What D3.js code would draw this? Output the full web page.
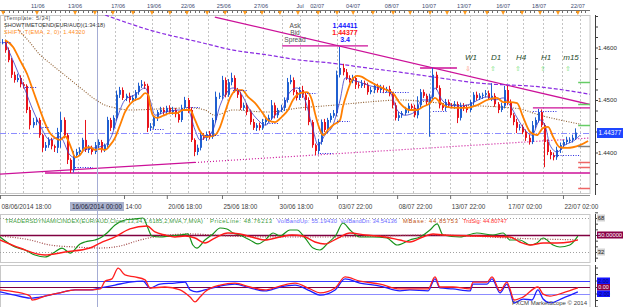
<!DOCTYPE html>
<html>
<head>
<meta charset="utf-8">
<script src="https://cdn.jsdelivr.net/npm/d3@7/dist/d3.min.js"></script>
<style>
  body { margin: 0; background: #ffffff; }
  svg { display: block; font-family: "Liberation Sans", Arial, sans-serif; }
</style>
</head>
<body>
<div id="chart"></div>
<script>
//////////////////////////////////////////////////
//   DATA  (prices in pips above 1.4300, H4)     //
//////////////////////////////////////////////////
var BASE = 1.43;
var firstOpen = 305;
var closes = [309,310,295,276,248,238,242,230,227,181,
  152,158,162,133,109,114,124,112,109,139,
  162,133,86,67,95,101,105,124,105,109,
  101,114,120,105,114,162,147,166,210,219,
  204,208,200,204,215,227,230,227,147,150,
  166,177,181,177,185,177,181,173,162,185,
  200,181,124,101,109,133,128,135,130,162,
  206,208,238,210,234,242,219,210,185,190,
  177,158,147,152,147,158,162,166,190,171,
  181,185,200,234,238,215,204,219,210,200,
  158,114,103,120,158,143,162,170,175,248,
  261,253,242,238,242,229,227,232,229,215,
  219,227,219,223,219,221,211,190,166,171,
  175,181,189,185,171,190,215,208,196,206,
  248,223,190,185,196,190,189,192,166,189,
  185,181,196,210,204,208,210,213,204,208,
  192,181,189,219,196,171,158,147,149,139,
  128,120,152,162,177,152,120,101,95,91,
  105,114,120,124,124,128,138];
var upWick = [4,6,3,5,4,6,8,5,4,3, 6,8,5,4,3,6,5,4,3,8, 15,5,4,3,8,6,5,4,38,5,
  4,6,5,4,3,6,4,5,8,6, 5,4,6,5,4,6,8,5,4,6, 5,4,6,5,4,5,6,4,5,6,
  6,4,5,3,6,8,4,5,6,4, 10,6,8,5,6,10,5,4,6,5, 4,5,6,4,5,6,4,6,10,5,
  4,6,5,8,10,5,4,6,8,4, 5,4,3,6,5,6,4,5,6,8, 40,8,6,5,6,4,5,6,5,4,
  6,5,4,6,5,4,6,4,5,6, 4,6,5,4,6,17,6,5,4,6, 13,6,5,4,6,5,4,6,5,6,
  5,6,4,5,6,5,4,6,5,24, 5,4,6,8,8,5,4,6,5,4, 5,6,8,5,6,5,4,5,4,5,
  6,5,4,6,5,6,8];
var lowWick = [4,3,5,4,6,5,4,6,5,6, 8,5,6,5,8,6,5,6,8,10, 30,6,8,6,5,4,6,5,4,6,
  5,4,6,5,4,5,6,4,5,6, 4,6,5,4,6,5,4,6,8,6, 5,6,4,5,6,4,5,6,5,4,
  5,6,4,8,6,5,4,6,5,4, 5,4,6,5,4,6,5,6,4,5, 6,5,4,6,5,4,6,5,4,6,
  5,4,6,5,4,6,5,4,6,20, 6,5,8,6,5,4,6,5,4,6, 5,6,4,5,6,8,5,4,6,5,
  4,6,5,4,6,5,4,6,5,6, 5,4,6,5,4,6,5,4,6,66, 5,4,6,5,6,4,5,6,10,5,
  6,5,4,6,5,4,6,5,4,6, 5,6,4,5,6,5,6,10,5,4, 6,5,4,6,5,4,48,6,8,6,
  5,6,4,5,6,5,4];

// moving averages as [bar index, pips]
var orangeMA = [[1.8,314],[4.4,301],[6.6,276],[8.9,250],[10.8,219],[13.1,181],[14.7,156],[16.3,137],
  [17.9,128],[19.5,124],[21.2,131],[22.1,124],[23.4,105],[24.4,91],[26,95],[27.6,109],[29.2,110],
  [30.8,105],[32.5,107],[34.1,105],[35.7,114],[37.3,128],[38.9,152],[40.5,177],[42.1,192],[43.7,200],
  [45.4,204],[47,213],[48,210],[48.6,190],[49.5,171],[50.8,166],[52.8,170],[55,175],[57.3,175],
  [59.2,181],[61.5,181],[63.1,162],[64.7,141],[67,130],[69.5,133],[71.2,149],[72.8,177],[74.4,204],
  [76.6,219],[78.3,219],[80.2,206],[82.5,194],[84.7,177],[86.6,162],[88.9,158],[91.1,168],[93.1,181],
  [94.7,200],[97,213],[99.2,215],[100.8,200],[101.8,175],[103.4,143],[104.4,133],[106,143],[107.6,152],
  [109.9,162],[110.8,187],[112.1,213],[113.7,238],[115.4,246],[117,244],[118.6,238],[120.5,232],
  [122.8,225],[125,219],[127,213],[129.2,194],[132.4,181],[134.7,181],[136.6,187],[138.9,194],
  [140.5,204],[142.1,196],[144.4,187],[147.6,185],[150.8,185],[154,190],[157.3,200],[160.5,204],
  [162.5,196],[164.7,196],[167,194],[168.9,168],[171.2,139],[173.4,133],[175.4,147],[177,149],
  [178.6,130],[180.8,110],[183.1,109],[185,110],[187.3,114],[189.9,122]];
var fastMA = [[1.8,310],[5,267],[8.3,219],[10.8,181],[13.1,152],[16.3,124],[19.5,130],[22.8,95],
  [24.4,90],[27.6,105],[30.8,109],[34.1,114],[36.3,133],[38.3,171],[40.5,200],[43.7,210],[47,223],
  [48.6,200],[50.2,171],[53.4,177],[58.3,181],[60.8,181],[63.1,143],[64.7,124],[66.3,128],[68.9,143],
  [71.2,190],[73.4,215],[75.4,223],[77.6,215],[80.8,181],[83.4,162],[85.7,152],[88.9,171],[91.5,185],
  [93.7,215],[96,223],[98.6,200],[101.2,143],[102.8,114],[105,133],[107.6,152],[109.9,200],[111.5,242],
  [113.7,238],[116.3,234],[119.5,227],[122.8,223],[126,215],[128.3,181],[130.8,171],[134,177],
  [136.3,200],[138.9,200],[140.5,223],[142.8,200],[145.4,190],[148.6,189],[151.8,192],[154.4,200],
  [157.3,206],[159.9,200],[162.5,204],[164.7,190],[167,166],[169.5,143],[171.8,133],[174.4,162],
  [176,152],[177.6,114],[179.9,101],[182.4,114],[185.7,124],[187.3,133]];
var slowMA = [[6,334],[9.2,314],[13.1,286],[16.3,270],[21.8,244],[27,219],[30.2,204],[33.4,192],
  [37.3,185],[42.1,181],[51.8,183],[61.5,185],[66.3,181],[69.5,171],[75.4,181],[86.3,177],[97,185],
  [107.6,190],[118.6,196],[129.2,200],[138.9,196],[149.6,190],[160.5,187],[167.9,183],[174.4,171],
  [180.8,162],[187.3,154]];
var longMA = [[34.1,362],[48.6,333],[64.7,310],[75.4,295],[86.3,286],[97,276],[107.6,270],
  [118.6,261],[129.2,253],[142.1,242],[155,232],[174.4,225],[190.5,211]];

// trend lines and levels
var trendDown = [[69.5,358],[191.2,190.5]];
var trendUpSolid = [[0.2,59],[63.1,81]];
var trendUpDotted = [[63.1,81],[190.5,127.6]];
var flatLines = [[14.7,190.5,61],[91.2,118.9,303],[135.7,147.6,261],[172.1,191.2,185]];
var fractalSegs = [[0,4,310],[8.3,12.1,225],[13.1,16.3,149],[24.4,30.2,72],[48.6,53.4,145],
  [60.5,64.7,187],[64.7,71.2,133],[75.4,79.9,219],[86.3,89.9,156],[99.2,102.5,213],[103.4,107.6,99],
  [108.9,113.1,160],[122.8,132.4,215],[139.9,144.4,179],[172.1,179.9,179],[178.6,187.3,95]];
var resistLevels = [234, 192, 152];
var pivotLevels = [112];
var supportLevels = [82, 72, 32];
var bidPips = 137.7;
var quote = {ask: "1.44411", bid: "1.44377", spread: "3.4"};

// time axes
var topDates = ["11/06","13/06","17/06","19/06","22/06","25/06","27/06","Jul","02/07","04/07","08/07","10/07","13/07","16/07","18/07","22/07"];
var topDateIdx = [12.4,24.4,38.3,49.9,60.8,72.4,84.4,97,102.5,114.1,126.6,138.6,149.9,162.5,174.1,186.6];
var dayMarkIdx = [1.2,12.1,24.4,30.8,36.6,43.1,49.2,55,60.5,67,72.8,79.2,84.7,90.5,96.3,102.8,108.9,
  114.1,120.5,127,132.5,138.9,144.4,150.2,157.3,162.5,168.6,174.4,180.2,186.6];
var gridIdx = [1.8,7.6,13.7,19.5,25.4,37.3,43.1,49.2,55,60.8,67.3,73.4,79.2,85,91.2,97,102.8,108.9,
  114.7,120.5,127,133.4,138.9,145.4,151.8,157.3,163.7,168.9,175.4,181.5,187.3];
var bottomLabels = ["08/06/2014 18:00","14:00","20/06 18:00","25/06 18:00","30/06 18:00",
  "03/07 22:00","08/07 22:00","13/07 22:00","17/07 02:00","22/07 02:00"];
var bottomIdx = [0.2,40.2,54,71.8,89.9,108.9,128.3,145.4,163.7,181.8];
var cursorIdx = 31.5;
var cursorLabel = "16/06/2014 00:00";

// timeframe trend panel
var frames = ["W1","D1","H4","H1","m15"];
var frameUp = [false,true,true,true,true];

// Traders Dynamic Index pane, [bar index, value]
var tdiPrice = [[0.2,47.9],[5,37.3],[8.3,34.1],[11.5,28.8],[14.7,26.7],[17.9,32],[20.2,36.2],[22.8,30.9],
  [26,40.5],[27.6,42.6],[30.8,44.7],[32.5,46.8],[34.7,52.1],[37.3,60.6],[40.5,65.9],[43.7,67],[46.3,68],
  [47.9,57.4],[49.2,48.9],[51.8,47.9],[55,48.9],[58.3,50],[60.8,51.1],[62.4,39.4],[63.7,36.2],[66.3,44.7],
  [68.9,51.1],[71.2,57.4],[73.4,56.4],[75.4,52.1],[77.6,50],[80.8,44.7],[83.4,40.5],[85.7,44.7],[88.3,52.1],
  [90.5,48.9],[93.7,55.3],[96,55.3],[98.6,46.8],[101.2,36.2],[103.4,34.1],[106,41.5],[108.6,50],[110.8,62.7],
  [113.1,55.3],[116.3,47.9],[120.5,47.9],[125,46.8],[128.3,39.4],[132.4,44.7],[135.7,47.9],[138.9,55.3],
  [141.2,61.7],[143.1,50],[148.6,47.9],[154,52.1],[159.2,50],[162.5,52.1],[164.7,44.7],[167.9,44.7],
  [171.2,39.4],[173.4,41.5],[175.4,46.8],[178.6,39.4],[180.8,37.3],[184,39.4],[186.6,48.8]];
var tdiSignal = [[0.2,44.7],[6.6,36.2],[14.7,28.8],[21.2,32],[29.2,36.2],[32.5,41.5],[37.3,47.9],[42.1,56.4],
  [47.6,59.5],[50.2,53.2],[53.4,50],[56.6,47.9],[59.9,48.9],[63.1,46.8],[66.3,41.5],[69.5,46.8],[73.7,52.1],
  [77.6,51.1],[82.5,46.8],[85.7,44.7],[90.5,47.9],[94.4,50],[97.9,48.9],[101.8,42.6],[105,40.5],[109.2,46.8],
  [113.1,52.1],[118,50],[124.4,47.9],[129.2,44.7],[132.4,42.6],[136.6,47.9],[139.9,51.1],[143.1,50],
  [154,48.9],[164.7,47.9],[167.9,42.6],[171.2,39.4],[175.4,41.5],[179.9,41.5],[184,42.6],[186.6,44.8]];
var tdiBase = [[0.2,48.9],[9.9,44.7],[16.3,39.4],[24.4,37.3],[32.5,36.2],[38.9,38.3],[45.4,44.7],
  [51.8,48.9],[61.5,51.1],[74.4,48.9],[90.5,47.9],[106.6,47.9],[122.8,48.9],[138.9,50],[151.8,48.9],
  [164.7,46.8],[186.6,44.9]];
var tdiLevels = [68, 50, 32];
var tdiTitle = "TRADERSDYNAMICINDEX(EUR/AUD,Close,13,34,1.6185,2,MVA,7,MVA)";
var tdiValues = ["PriceLine: 48.76213","VolBandUp: 55.19430","VolBandDn: 34.54136","MBase: 44.85753","TrdSig: 44.80747"];

// lower oscillator pane, [bar index, value]
var oscBlue = [[0.2,-1.5],[5,-2.5],[9.9,-3.4],[14.7,-2.8],[19.5,-1.8],[24.4,-0.9],[29.2,-0.9],[32.5,-0.3],
  [37.3,0.6],[42.1,1.5],[46.3,1.8],[48.6,-0.3],[51.8,0.9],[56.6,1.2],[59.9,1.5],[61.5,-0.9],[63.7,-1.5],
  [66.3,-0.9],[71.2,0.3],[76,0.9],[80.8,-0.3],[85.7,-1.2],[90.5,0],[95.4,0.6],[100.2,-1.2],[103.4,-2.5],
  [108.3,-0.9],[111.5,2.5],[116.3,1.2],[122.8,0.3],[129.2,-1.2],[132.4,-0.9],[138.3,-1.2],[140.5,2.5],
  [142.1,-0.3],[146.3,-0.6],[151.8,-1.2],[152.8,0.9],[157.3,0.9],[158.9,2.5],[161.5,-1.8],[163.7,0.9],
  [164.7,-1.2],[166,-4.9],[168.9,-3.7],[171.8,-4],[173.7,-0.9],[175.4,-3.7],[177.6,-4.9],[181.8,-3.4],
  [186.6,-1.5]];
var oscRed = [[0.2,-0.9],[5,-1.5],[9.9,-2.8],[10.5,-4],[14.7,-2.8],[19.5,-1.8],[24.4,-0.9],[29.2,-0.9],
  [32.5,-0.6],[34.1,1.8],[36.3,2.5],[38.3,5.8],[40.5,3.7],[43.7,3.1],[47,2.2],[48.6,-0.3],[53.4,0],
  [58.3,-0.9],[61.5,-3.1],[63.1,-4.6],[64.7,-3.1],[66.3,-1.5],[71.2,0.6],[76,1.2],[80.8,0],[85.7,-0.9],
  [90.5,0.3],[95.4,1.2],[100.2,-0.6],[103.4,-1.8],[108.3,-0.3],[111.5,3.1],[116.3,1.8],[122.8,0.9],
  [129.2,-0.6],[132.4,-0.6],[138.3,-0.6],[140.5,3.1],[142.1,0],[146.3,0],[151.8,-0.6],[152.8,1.5],
  [157.3,1.5],[158.9,3.1],[161.5,-1.2],[163.7,1.5],[164.7,-0.6],[166,-4],[168.9,-3.1],[173.7,0],
  [175.4,-2.2],[177.6,-2.8],[181.8,-1.8],[186.6,-0.3]];
var oscLevels = [2, 0, -2];

//////////////////////////////////////////////////
//                LAYOUT                        //
//////////////////////////////////////////////////
var width = 625, height = 307;
var main = {left: 0, right: 590, top: 15, bottom: 193};
var pane1 = {top: 214, bottom: 262};
var pane2 = {top: 265, bottom: 307};
var axisX = 595;

var x = d3.scaleLinear().domain([0, 186]).range([-0.6, 576]);
var y = d3.scaleLinear().domain([0, 400]).range([205, -5]);
var y1 = d3.scaleLinear().domain([50, 68]).range([235, 218]);
var y2 = d3.scaleLinear().domain([0, 2]).range([287, 280.5]);

function fmtPrice(v) { return (BASE + v / 10000).toFixed(4); }

var svg = d3.select("#chart").append("svg")
  .attr("width", width)
  .attr("height", height);

svg.append("rect").attr("width", width).attr("height", height).attr("fill", "#ffffff");

var defs = svg.append("defs");
defs.append("clipPath").attr("id", "clipMain").append("rect")
  .attr("x", main.left).attr("y", main.top)
  .attr("width", main.right - main.left).attr("height", main.bottom - main.top);
defs.append("clipPath").attr("id", "clipP1").append("rect")
  .attr("x", 0).attr("y", pane1.top).attr("width", main.right).attr("height", pane1.bottom - pane1.top);
defs.append("clipPath").attr("id", "clipP2").append("rect")
  .attr("x", 0).attr("y", pane2.top).attr("width", main.right).attr("height", pane2.bottom - pane2.top);

// frames
[[main.top, main.bottom], [pane1.top, pane1.bottom], [pane2.top, pane2.bottom]].forEach(function (p) {
  svg.append("rect")
    .attr("x", 0.5).attr("y", p[0] + 0.5)
    .attr("width", main.right - 0.5).attr("height", p[1] - p[0])
    .attr("fill", "none").attr("stroke", "#c8c8c8");
});

var gMain = svg.append("g").attr("clip-path", "url(#clipMain)");

// day gridlines
gMain.selectAll(".grid").data(gridIdx).enter().append("line")
  .attr("x1", d => Math.round(x(d)) + 0.5).attr("x2", d => Math.round(x(d)) + 0.5)
  .attr("y1", main.top).attr("y2", main.bottom)
  .attr("stroke", "#c4c4c4").attr("stroke-dasharray", "2,2");

// trend lines
var lineP = d3.line().x(d => x(d[0])).y(d => y(d[1]));
gMain.append("path").datum(trendDown).attr("d", lineP)
  .attr("fill", "none").attr("stroke", "#cc1199").attr("stroke-width", 1.3);
gMain.append("path").datum(trendUpSolid).attr("d", lineP)
  .attr("fill", "none").attr("stroke", "#cc1199").attr("stroke-width", 1.3);
gMain.append("path").datum(trendUpDotted).attr("d", lineP)
  .attr("fill", "none").attr("stroke", "#cc1199").attr("stroke-width", 1.2).attr("stroke-dasharray", "1,2");
gMain.selectAll(".flat").data(flatLines).enter().append("line")
  .attr("x1", d => x(d[0])).attr("x2", d => x(d[1]))
  .attr("y1", d => y(d[2])).attr("y2", d => y(d[2]))
  .attr("stroke", "#cc1199").attr("stroke-width", 1.3);

// bid line
gMain.append("line")
  .attr("x1", main.left).attr("x2", main.right)
  .attr("y1", Math.round(y(bidPips)) + 0.5).attr("y2", Math.round(y(bidPips)) + 0.5)
  .attr("stroke", "#8c8cff").attr("stroke-dasharray", "6,2,1,2");

// slow averages
var curve = d3.line().curve(d3.curveMonotoneX).x(d => x(d[0])).y(d => y(d[1]));
gMain.append("path").datum(longMA).attr("d", curve)
  .attr("fill", "none").attr("stroke", "#8a2be2").attr("stroke-width", 1.2).attr("stroke-dasharray", "4,2");
gMain.append("path").datum(slowMA).attr("d", curve)
  .attr("fill", "none").attr("stroke", "#8b5a2b").attr("stroke-width", 1.1).attr("stroke-dasharray", "1,1.5");

// candles
var bars = closes.map(function (c, i) {
  var o = i ? closes[i - 1] : firstOpen;
  return {i: i, o: o, c: c, h: Math.max(o, c) + upWick[i], l: Math.min(o, c) - lowWick[i]};
});
var candle = gMain.selectAll(".bar").data(bars).enter().append("g");
candle.append("rect")
  .attr("x", d => Math.round(x(d.i)) - 1)
  .attr("y", d => y(d.h))
  .attr("width", 1)
  .attr("height", d => y(d.l) - y(d.h))
  .attr("fill", d => d.c >= d.o ? "#1f5fd0" : "#e8141c");
candle.append("rect")
  .attr("x", d => Math.round(x(d.i)) - 1)
  .attr("y", d => y(Math.max(d.o, d.c)))
  .attr("width", 2)
  .attr("height", d => Math.max(1, Math.abs(y(d.o) - y(d.c))))
  .attr("fill", d => d.c >= d.o ? "#1f5fd0" : "#e8141c");

// fast averages
gMain.append("path").datum(fastMA).attr("d", curve)
  .attr("fill", "none").attr("stroke", "#3a3ac8").attr("stroke-width", 0.8);
gMain.append("path").datum(orangeMA).attr("d", curve)
  .attr("fill", "none").attr("stroke", "#ff7f00").attr("stroke-width", 1.8);

// fractal levels
gMain.selectAll(".frac").data(fractalSegs).enter().append("line")
  .attr("x1", d => x(d[0])).attr("x2", d => x(d[1]))
  .attr("y1", d => Math.round(y(d[2])) + 0.5).attr("y2", d => Math.round(y(d[2])) + 0.5)
  .attr("stroke", "#2a2ae0").attr("stroke-width", 1).attr("stroke-dasharray", "1,1.5");

// pivot marks at the right edge
function levelMarks(levels, color) {
  gMain.selectAll(null).data(levels).enter().append("line")
    .attr("x1", x(186.7)).attr("x2", main.right)
    .attr("y1", d => Math.round(y(d)) + 0.5).attr("y2", d => Math.round(y(d)) + 0.5)
    .attr("stroke", color).attr("stroke-width", 1.5);
}
levelMarks(resistLevels, "#66cc66");
levelMarks(pivotLevels, "#808080");
levelMarks(supportLevels, "#ee6666");

// cursor line through all panes
svg.append("line")
  .attr("x1", Math.round(x(cursorIdx)) + 0.5).attr("x2", Math.round(x(cursorIdx)) + 0.5)
  .attr("y1", 10).attr("y2", height)
  .attr("stroke", "#a4acd4");

//////////////////////////////////////////////////
//             TOP DATE STRIP                   //
//////////////////////////////////////////////////
svg.append("line").attr("x1", 0).attr("x2", main.right)
  .attr("y1", 10.5).attr("y2", 10.5).attr("stroke", "#707070");
svg.selectAll(".ttick").data(d3.range(0, 190, 1.5)).enter().append("line")
  .attr("x1", d => Math.round(x(d)) + 0.5).attr("x2", d => Math.round(x(d)) + 0.5)
  .attr("y1", 10.5).attr("y2", 13).attr("stroke", "#707070");
svg.selectAll(".tri").data(dayMarkIdx).enter().append("path")
  .attr("d", d => { var cx = x(d); return "M" + (cx - 2) + ",11L" + (cx + 2) + ",11L" + cx + ",15Z"; })
  .attr("fill", "#ff9a1a");
svg.selectAll(".tdate").data(topDates).enter().append("text")
  .attr("x", (d, i) => x(topDateIdx[i])).attr("y", 8)
  .attr("text-anchor", "middle").attr("font-size", "5.6px").attr("fill", "#3c4a70")
  .text(d => d);

//////////////////////////////////////////////////
//             PRICE AXIS                       //
//////////////////////////////////////////////////
var priceAxis = svg.append("g")
  .attr("transform", "translate(" + axisX + ",0)")
  .call(d3.axisRight(y).tickValues(d3.range(40, 361, 20)).tickSize(3).tickPadding(0)
    .tickFormat(d => d % 100 === 0 ? fmtPrice(d) : ""));
priceAxis.select(".domain").remove();
priceAxis.selectAll("line").attr("stroke", "#404040");
priceAxis.selectAll("text").attr("font-size", "6.2px").attr("fill", "#303030")
  .attr("font-family", "Liberation Sans, Arial, sans-serif");
svg.append("line").attr("x1", axisX + 0.5).attr("x2", axisX + 0.5)
  .attr("y1", main.top).attr("y2", main.bottom + 2).attr("stroke", "#404040");

// bid tag
svg.append("rect").attr("x", 597).attr("y", Math.round(y(bidPips)) - 5)
  .attr("width", 26).attr("height", 10).attr("fill", "#1e46ff");
svg.append("text").attr("x", 610).attr("y", Math.round(y(bidPips)) + 2.3)
  .attr("text-anchor", "middle").attr("font-size", "6.3px").attr("fill", "#ffffff")
  .text(quote.bid);

//////////////////////////////////////////////////
//             BOTTOM TIME AXIS                 //
//////////////////////////////////////////////////
var timeAxis = svg.append("g")
  .attr("transform", "translate(0," + (main.bottom + 2) + ")")
  .call(d3.axisBottom(x).tickValues(bottomIdx).tickSize(4).tickPadding(5)
    .tickFormat((d, i) => bottomLabels[i]));
timeAxis.select(".domain").attr("stroke", "#909090").attr("d", "M0,0.5H" + main.right);
timeAxis.selectAll("line").attr("stroke", "#707070");
timeAxis.selectAll("text").attr("text-anchor", "start").attr("dx", "1px")
  .attr("font-size", "6.4px").attr("fill", "#404040")
  .attr("font-family", "Liberation Sans, Arial, sans-serif");
svg.append("rect").attr("x", 70).attr("y", 202).attr("width", 54).attr("height", 9).attr("fill", "#a9b1cc");
svg.append("text").attr("x", 72).attr("y", 209).attr("font-size", "6.4px").attr("fill", "#1c2038")
  .attr("textLength", 50).text(cursorLabel);

//////////////////////////////////////////////////
//             CHART TEXTS                      //
//////////////////////////////////////////////////
svg.append("text").attr("x", 4).attr("y", 20).attr("font-size", "5.6px").attr("fill", "#555555")
  .attr("textLength", 46).text("[Template: 5/34]");
svg.append("text").attr("x", 4).attr("y", 27).attr("font-size", "5.6px").attr("fill", "#303030")
  .attr("textLength", 101).text("SHOWTIMETOEND(EUR/AUD)(1:34:18)");
svg.append("text").attr("x", 4).attr("y", 34).attr("font-size", "5.6px").attr("fill", "#ff8c1a")
  .attr("textLength", 81).text("SHIFT_T(EMA, 2, 0): 1.44320");

var quoteRows = [["Ask", quote.ask, "#1414ff"], ["Bid", quote.bid, "#ff1414"], ["Spread", quote.spread, "#1414ff"]];
quoteRows.forEach(function (r, i) {
  svg.append("text").attr("x", 295).attr("y", 28 + i * 7).attr("text-anchor", "middle")
    .attr("font-size", "6.6px").attr("fill", "#505050").text(r[0]);
  svg.append("text").attr("x", 345).attr("y", 28 + i * 7).attr("text-anchor", "middle")
    .attr("font-size", "7px").attr("font-weight", "bold").attr("fill", r[2]).text(r[1]);
});

frames.forEach(function (f, i) {
  svg.append("text").attr("x", 471 + i * 25).attr("y", 60).attr("text-anchor", "middle")
    .attr("font-size", "8px").attr("font-style", "italic").attr("fill", "#1e4a2a").text(f);
  svg.append("text").attr("x", 468 + i * 25).attr("y", 71).attr("text-anchor", "middle")
    .attr("font-size", "6.5px").attr("font-family", "DejaVu Sans")
    .attr("fill", frameUp[i] ? "#66dd66" : "#ff8866").text(frameUp[i] ? "\u21e7" : "\u21e9");
});

//////////////////////////////////////////////////
//             TDI PANE                         //
//////////////////////////////////////////////////
var gP1 = svg.append("g").attr("clip-path", "url(#clipP1)");
gP1.selectAll(".lvl").data(tdiLevels).enter().append("line")
  .attr("x1", 0).attr("x2", main.right)
  .attr("y1", d => Math.round(y1(d)) + 0.5).attr("y2", d => Math.round(y1(d)) + 0.5)
  .attr("stroke", d => d === 50 ? "#800040" : "#a0a0a0")
  .attr("stroke-width", d => d === 50 ? 1.3 : 1)
  .attr("stroke-dasharray", d => d === 50 ? null : "1,2");
var line1 = d3.line().curve(d3.curveMonotoneX).x(d => x(d[0])).y(d => y1(d[1]));
gP1.append("path").datum(tdiBase).attr("d", line1)
  .attr("fill", "none").attr("stroke", "#a04848").attr("stroke-width", 1.2).attr("stroke-dasharray", "1,1.5");
gP1.append("path").datum(tdiPrice).attr("d", line1)
  .attr("fill", "none").attr("stroke", "#18921a").attr("stroke-width", 1.2);
gP1.append("path").datum(tdiSignal).attr("d", line1)
  .attr("fill", "none").attr("stroke", "#ff1a1a").attr("stroke-width", 1.4);

svg.append("text").attr("x", 5).attr("y", 223).attr("font-size", "5.8px").attr("fill", "#3c9a3c")
  .attr("textLength", 198).text(tdiTitle);
var valX = [210, 277, 340, 403, 463], valLen = [62, 60, 57, 55, 44];
var valColors = ["#3c9a3c", "#6a6aff", "#6a6aff", "#c05010", "#ff3030"];
tdiValues.forEach(function (t, i) {
  svg.append("text").attr("x", valX[i]).attr("y", 223).attr("font-size", "5.8px")
    .attr("fill", valColors[i]).attr("textLength", valLen[i]).text(t);
});

var p1Axis = svg.append("g").attr("transform", "translate(" + axisX + ",0)")
  .call(d3.axisRight(y1).tickValues(d3.range(26, 75, 6)).tickSize(3).tickFormat(""));
p1Axis.select(".domain").remove();
p1Axis.selectAll("line").attr("stroke", "#404040");
svg.append("line").attr("x1", axisX + 0.5).attr("x2", axisX + 0.5)
  .attr("y1", pane1.top).attr("y2", pane1.bottom).attr("stroke", "#404040");
var tags1 = [[68, "68", "#d4d4d4", "#202020", 8], [50, "50.00000", "#8a0045", "#ffffff", 26], [32, "32", "#d4d4d4", "#202020", 8]];
tags1.forEach(function (t) {
  svg.append("rect").attr("x", 597).attr("y", y1(t[0]) - 3.5).attr("width", t[4]).attr("height", 7).attr("fill", t[2]);
  svg.append("text").attr("x", 597 + t[4] / 2).attr("y", y1(t[0]) + 2).attr("text-anchor", "middle")
    .attr("font-size", "5.8px").attr("fill", t[3]).text(t[1]);
});

//////////////////////////////////////////////////
//             OSCILLATOR PANE                  //
//////////////////////////////////////////////////
var gP2 = svg.append("g").attr("clip-path", "url(#clipP2)");
gP2.selectAll(".lvl").data(oscLevels).enter().append("line")
  .attr("x1", 0).attr("x2", main.right)
  .attr("y1", d => Math.round(y2(d)) + 0.5).attr("y2", d => Math.round(y2(d)) + 0.5)
  .attr("stroke", d => d === 0 ? "#800040" : (d > 0 ? "#3a3aff" : "#8c8cff"))
  .attr("stroke-width", 1.2);
var line2 = d3.line().curve(d3.curveMonotoneX).x(d => x(d[0])).y(d => y2(d[1]));
gP2.append("path").datum(oscBlue).attr("d", line2)
  .attr("fill", "none").attr("stroke", "#1e1eff").attr("stroke-width", 1.3);
gP2.append("path").datum(oscRed).attr("d", line2)
  .attr("fill", "none").attr("stroke", "#ff2020").attr("stroke-width", 1.3);

var p2Axis = svg.append("g").attr("transform", "translate(" + axisX + ",0)")
  .call(d3.axisRight(y2).tickValues(d3.range(-6, 7, 2)).tickSize(3).tickFormat(""));
p2Axis.select(".domain").remove();
p2Axis.selectAll("line").attr("stroke", "#404040");
svg.append("line").attr("x1", axisX + 0.5).attr("x2", axisX + 0.5)
  .attr("y1", pane2.top).attr("y2", pane2.bottom).attr("stroke", "#404040");
var tags2 = [[2, "2.00", "#1414ff", "#0a0a60"], [0, "0.00", "#8a0045", "#ffffff"], [-2, "-2.00", "#1414ff", "#0a0a60"]];
tags2.forEach(function (t) {
  svg.append("rect").attr("x", 597).attr("y", y2(t[0]) - 3).attr("width", 13).attr("height", 6.5).attr("fill", t[2]);
  svg.append("text").attr("x", 603.5).attr("y", y2(t[0]) + 2).attr("text-anchor", "middle")
    .attr("font-size", "5.4px").attr("fill", t[3]).text(t[1]);
});

svg.append("text").attr("x", 512).attr("y", 304.5).attr("font-size", "6px").attr("fill", "#404040")
  .attr("textLength", 75).text("FXCM MarketScope \u00a9 2014");
</script>
</body>
</html>
